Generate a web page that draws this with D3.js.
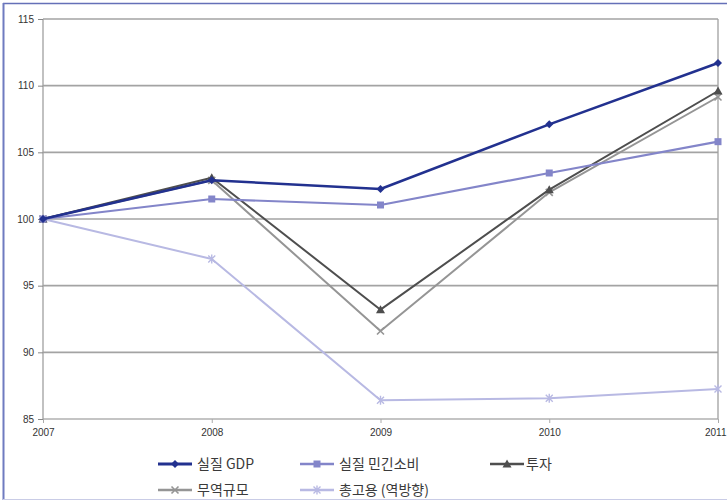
<!DOCTYPE html>
<meta charset="utf-8">
<script src="https://d3js.org/d3.v7.min.js"></script>
<style>
  body { margin: 0; background: #fff; font-family: 'Liberation Sans', 'Noto Sans CJK KR', sans-serif; }
  .axis .domain { display: none; }
  .tick text { font-size: 10px; fill: #333; }
</style>
<body>
<svg width="727" height="502"></svg>
</body>
<script>
// years on the x axis
var years = [2007, 2008, 2009, 2010, 2011];
var yTicks = [85, 90, 95, 100, 105, 110, 115];

// index values, 2007 = 100
var gdp        = [100, 102.9, 102.25, 107.1, 111.7];
var consume    = [100, 101.5, 101.05, 103.45, 105.8];
var invest     = [100, 103.1, 93.2, 102.2, 109.6];
var trade      = [100, 102.9, 91.6, 102.0, 109.15];
var employment = [100, 97.0, 86.4, 86.55, 87.25];

var seriesNames = ["실질 GDP", "실질 민긴소비", "투자", "무역규모", "총고용 (역방향)"];

var series = [
  { name: seriesNames[0], values: gdp, color: "#22318f", width: 2.5, marker: "diamond" },
  { name: seriesNames[1], values: consume, color: "#8385c9", width: 2.2, marker: "square" },
  { name: seriesNames[2], values: invest, color: "#4e4e4e", width: 2, marker: "triangle" },
  { name: seriesNames[3], values: trade, color: "#959595", width: 2, marker: "cross" },
  { name: seriesNames[4], values: employment, color: "#b8b9e3", width: 2, marker: "star" }
];

var svg = d3.select("svg");

// outer frame
svg.append("rect").attr("x", 0).attr("y", 0).attr("width", 727).attr("height", 502).attr("fill", "#fff");
svg.append("line").attr("x1", 3).attr("x2", 727).attr("y1", 3.5).attr("y2", 3.5)
  .attr("stroke", "#6570b8").attr("stroke-width", 1.5);
svg.append("line").attr("x1", 3.5).attr("x2", 3.5).attr("y1", 3).attr("y2", 500)
  .attr("stroke", "#6f7bc0").attr("stroke-width", 2);
svg.append("line").attr("x1", 3).attr("x2", 727).attr("y1", 499.5).attr("y2", 499.5)
  .attr("stroke", "#c9cce6").attr("stroke-width", 1);

var margin = { top: 19, left: 43, right: 9, bottom: 83 };
var width = 727 - margin.left - margin.right,
    height = 502 - margin.top - margin.bottom;

var g = svg.append("g").attr("transform", "translate(" + margin.left + "," + margin.top + ")");

var x = d3.scalePoint().domain(years).range([0, width]);
var y = d3.scaleLinear().domain([85, 115]).range([height, 0]);

// grid
g.append("g").selectAll("line")
  .data(yTicks)
  .enter().append("line")
    .attr("x1", 0).attr("x2", width)
    .attr("y1", function(d) { return y(d); })
    .attr("y2", function(d) { return y(d); })
    .attr("stroke", function(d) { return d == 85 ? "#b0b0b0" : "#a3a3a3"; })
    .attr("stroke-width", 1.6);

// left and right border of plot
g.append("line").attr("x1", 0).attr("x2", 0).attr("y1", 0).attr("y2", height)
  .attr("stroke", "#a0a0a0").attr("stroke-width", 1.3);
g.append("line").attr("x1", width).attr("x2", width).attr("y1", 0).attr("y2", height)
  .attr("stroke", "#a0a0a0").attr("stroke-width", 1.3);

g.append("g")
  .attr("class", "axis")
  .call(d3.axisLeft(y).tickValues(yTicks).tickSize(5).tickPadding(4))
  .selectAll(".tick line").attr("stroke", "#888");

var xAxis = g.append("g")
  .attr("class", "axis")
  .attr("transform", "translate(0," + height + ")")
  .call(d3.axisBottom(x).tickSize(4).tickPadding(6));
xAxis.selectAll(".tick line").attr("stroke", "#aaa");
// last label sits at the edge; keep it inside the picture
xAxis.selectAll(".tick text").filter(function(d) { return d == 2011; })
  .attr("text-anchor", "end").attr("dx", "8");

var line = d3.line()
  .x(function(d, i) { return x(years[i]); })
  .y(function(d) { return y(d); });

function drawMarker(sel, type, color) {
  if (type == "diamond") {
    sel.append("path").attr("d", "M0,-4L4,0L0,4L-4,0Z").attr("fill", color);
  } else if (type == "square") {
    sel.append("rect").attr("x", -3.5).attr("y", -3.5).attr("width", 7).attr("height", 7).attr("fill", color);
  } else if (type == "triangle") {
    sel.append("path").attr("d", "M0,-4.5L4.5,3.5L-4.5,3.5Z").attr("fill", color);
  } else if (type == "cross") {
    sel.append("path").attr("d", "M-3.5,-3.5L3.5,3.5M-3.5,3.5L3.5,-3.5").attr("stroke", color).attr("stroke-width", 1.6);
  } else {
    sel.append("path").attr("d", "M-3.5,-3.5L3.5,3.5M-3.5,3.5L3.5,-3.5M0,-4.5L0,4.5").attr("stroke", color).attr("stroke-width", 1.4);
  }
}

// draw back to front
var order = [4, 3, 2, 1, 0];
order.forEach(function(k) {
  var s = series[k];
  g.append("path")
    .datum(s.values)
    .attr("fill", "none")
    .attr("stroke", s.color)
    .attr("stroke-width", s.width)
    .attr("stroke-linejoin", "round")
    .attr("d", line);
  s.values.forEach(function(v, i) {
    var m = g.append("g").attr("transform", "translate(" + x(years[i]) + "," + y(v) + ")");
    drawMarker(m, s.marker, s.color);
  });
});

// legend
var legendPos = [
  [158, 464], [300, 464], [490, 464],
  [158, 490], [300, 490]
];
series.forEach(function(s, i) {
  var lg = svg.append("g").attr("transform", "translate(" + legendPos[i][0] + "," + legendPos[i][1] + ")");
  lg.append("line").attr("x1", 0).attr("x2", 34).attr("y1", 0).attr("y2", 0)
    .attr("stroke", s.color).attr("stroke-width", s.width + 0.5);
  drawMarker(lg.append("g").attr("transform", "translate(17,0)"), s.marker, s.color);
  lg.append("text")
    .attr("x", i == 2 ? 36 : 39)
    .attr("y", 0)
    .attr("dy", "0.35em")
    .attr("font-size", 14)
    .attr("fill", "#3a3a3a")
    .attr("font-family", "'Noto Sans CJK KR', sans-serif")
    .text(s.name);
});
</script>
